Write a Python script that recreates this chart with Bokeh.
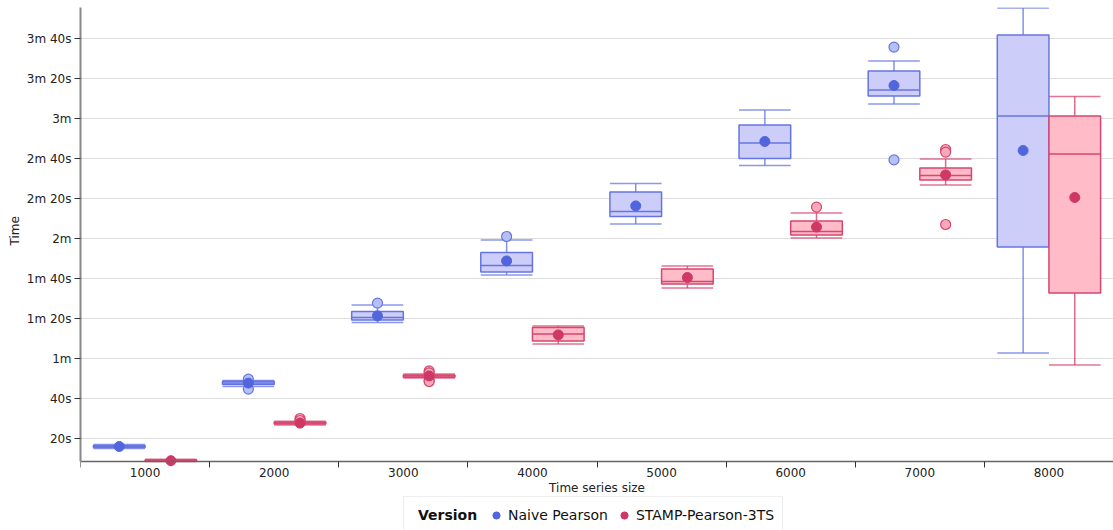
from bokeh.plotting import figure
from bokeh.models import ColumnDataSource, FixedTicker, Range1d, Legend, LegendItem, Title
from bokeh.embed import file_html
from bokeh.resources import INLINE

# ---------------- data ----------------
sizes = ["1000", "2000", "3000", "4000", "5000", "6000", "7000", "8000"]
versions = ["Naive Pearson", "STAMP-Pearson-3TS"]
legend_title = "Version"

y_tick_values = [20, 40, 60, 80, 100, 120, 140, 160, 180, 200, 220]
y_tick_labels = ["20s", "40s", "1m", "1m 20s", "1m 40s", "2m", "2m 20s",
                 "2m 40s", "3m", "3m 20s", "3m 40s"]

# Naive Pearson (seconds)
naive_lower = [15.0, 46.0, 78.0, 101.8, 127.2, 156.5, 187.2, 62.7]
naive_q1 = [15.5, 47.0, 79.3, 103.2, 131.0, 160.0, 191.3, 115.7]
naive_median = [16.0, 47.8, 80.5, 106.5, 133.5, 167.8, 194.2, 181.3]
naive_q3 = [16.5, 48.6, 83.5, 113.0, 143.2, 176.8, 203.8, 221.8]
naive_upper = [17.0, 49.0, 86.8, 119.3, 147.5, 184.2, 208.8, 235.2]
naive_mean = [16.0, 47.7, 81.3, 108.8, 136.3, 168.5, 196.5, 164.0]
naive_out_size = ["2000", "2000", "3000", "4000", "7000", "7000"]
naive_out_value = [49.7, 44.7, 87.7, 121.0, 215.7, 159.3]

# STAMP-Pearson-3TS (seconds)
stamp_lower = [8.5, 26.8, 50.2, 67.2, 95.2, 120.3, 146.8, 56.7]
stamp_q1 = [8.6, 27.2, 50.6, 68.8, 97.2, 121.8, 149.3, 92.8]
stamp_median = [9.0, 27.7, 51.2, 72.2, 98.5, 123.5, 151.5, 162.3]
stamp_q3 = [9.3, 28.2, 51.8, 75.5, 104.8, 128.7, 155.3, 181.2]
stamp_upper = [9.6, 28.6, 52.3, 76.3, 106.3, 132.8, 159.7, 191.0]
stamp_mean = [8.9, 27.7, 51.3, 71.8, 100.5, 125.7, 151.8, 140.5]
stamp_out_size = ["2000", "2000", "3000", "3000", "3000", "3000", "6000", "7000", "7000", "7000"]
stamp_out_value = [30.0, 29.0, 53.8, 52.8, 49.0, 48.5, 135.7, 164.5, 163.2, 127.0]

FONT = "DejaVu Sans"
styles = {
    "Naive Pearson": dict(fill="#c9caf9", line="#6475e2", dot="#5166dc",
                          ofill="#b7c0f6", offset=-0.2),
    "STAMP-Pearson-3TS": dict(fill="#ffb7c5", line="#d6466f", dot="#cf3765",
                              ofill="#f8aabb", offset=0.2),
}

Y_AXIS_MIN = 8.5
Y_MAX = 235.5

# frame runs to the bottom of the canvas; the x axis is pinned at Y_AXIS_MIN
p = figure(width=1113, height=530, output_backend="svg", toolbar_location=None,
           x_range=Range1d(0, len(sizes)), y_range=Range1d(-26.0, Y_MAX),
           min_border_left=80, min_border_right=0, min_border_top=7,
           min_border_bottom=0)
p.outline_line_color = None
p.background_fill_color = "white"
p.border_fill_color = "white"

# grid
p.xgrid.visible = False
p.ygrid.ticker = FixedTicker(ticks=y_tick_values)
p.ygrid.grid_line_color = "#dddddd"
p.ygrid.grid_line_width = 1

# x axis: labels at group centers, tick marks at group boundaries
centers = [i + 0.5 for i in range(len(sizes))]
bounds = [float(i) for i in range(len(sizes) + 1)]
xa = p.xaxis[0]
xa.fixed_location = Y_AXIS_MIN
xa.ticker = FixedTicker(ticks=centers, minor_ticks=bounds)
xa.major_label_overrides = {c: s for c, s in zip(centers, sizes)}
xa.axis_line_color = "#666666"
xa.axis_line_width = 1.5
xa.major_tick_line_color = None
xa.major_tick_in = 0
xa.major_tick_out = 0
xa.minor_tick_line_color = "#333333"
xa.minor_tick_in = 0
xa.minor_tick_out = 6
xa.major_label_standoff = 0
xa.axis_label = "Time series size"
xa.axis_label_standoff = 1

# y axis
ya = p.yaxis[0]
ya.bounds = (Y_AXIS_MIN, Y_MAX)
ya.ticker = FixedTicker(ticks=y_tick_values, minor_ticks=[])
ya.major_label_overrides = {v: s for v, s in zip(y_tick_values, y_tick_labels)}
ya.axis_line_color = "#888888"
ya.axis_line_width = 2
ya.major_tick_line_color = "#333333"
ya.major_tick_in = 0
ya.major_tick_out = 6
ya.minor_tick_line_color = None
ya.major_label_standoff = 3

for ax in (xa, ya):
    ax.major_label_text_font = FONT
    ax.major_label_text_font_size = "12px"
    ax.major_label_text_color = "#222222"
    ax.axis_label_text_font = FONT
    ax.axis_label_text_font_size = "12px"
    ax.axis_label_text_font_style = "normal"
    ax.axis_label_text_color = "#222222"

# y axis title, placed along the axis span rather than the full frame
p.add_layout(Title(text="Time", align="left", offset=285, standoff=4,
                   text_font=FONT, text_font_size="12px", text_font_style="normal",
                   text_color="#222222"), "left")

series = {
    "Naive Pearson": (naive_lower, naive_q1, naive_median, naive_q3, naive_upper,
                      naive_mean, naive_out_size, naive_out_value),
    "STAMP-Pearson-3TS": (stamp_lower, stamp_q1, stamp_median, stamp_q3, stamp_upper,
                          stamp_mean, stamp_out_size, stamp_out_value),
}

half = 0.2
mean_renderers = {}
first_src = None
for name in versions:
    lower, q1, med, q3, upper, mean, osz, oval = series[name]
    st = styles[name]
    xs = [sizes.index(s) + 0.5 + st["offset"] for s in sizes]
    src = ColumnDataSource(dict(x=xs, x0=[x - half for x in xs], x1=[x + half for x in xs],
                                lower=lower, q1=q1, med=med, q3=q3, upper=upper, mean=mean))
    if first_src is None:
        first_src = src
    # whiskers
    p.segment(x0="x", x1="x", y0="q3", y1="upper", source=src,
              line_color=st["line"], line_width=1.5, line_alpha=0.8)
    p.segment(x0="x", x1="x", y0="q1", y1="lower", source=src,
              line_color=st["line"], line_width=1.5, line_alpha=0.8)
    p.segment(x0="x0", x1="x1", y0="upper", y1="upper", source=src,
              line_color=st["line"], line_width=1.5, line_alpha=0.75)
    p.segment(x0="x0", x1="x1", y0="lower", y1="lower", source=src,
              line_color=st["line"], line_width=1.5, line_alpha=0.75)
    # boxes
    p.quad(left="x0", right="x1", bottom="q1", top="q3", source=src,
           fill_color=st["fill"], fill_alpha=0.95, line_color=st["line"], line_width=1.5)
    # median
    p.segment(x0="x0", x1="x1", y0="med", y1="med", source=src,
              line_color=st["line"], line_width=1.5)
    # outliers
    osrc = ColumnDataSource(dict(x=[sizes.index(s) + 0.5 + st["offset"] for s in osz], y=oval))
    p.scatter(x="x", y="y", source=osrc, size=10, marker="circle",
              fill_color=st["ofill"], line_color=st["line"], line_width=1.2)
    # mean
    mean_renderers[name] = p.scatter(x="x", y="mean", source=src, size=10, marker="circle",
                                     fill_color=st["dot"], line_color=st["dot"])

# legend: an invisible first entry reserves room for the bold title
spacer = p.scatter(x="x", y="mean", source=first_src, size=1, fill_alpha=0, line_alpha=0)
items = [LegendItem(label=" ", renderers=[spacer])]
for name in versions:
    items.append(LegendItem(label=name, renderers=[mean_renderers[name]]))
legend = Legend(items=items, orientation="horizontal", location=(323, -4),
                padding=8, spacing=7, glyph_width=18, glyph_height=18,
                label_standoff=3, label_height=20, label_width=47, margin=0,
                label_text_font=FONT, label_text_font_size="14px",
                label_text_color="#111111",
                border_line_color="#dddddd", border_line_width=1.5,
                background_fill_color="white", background_fill_alpha=1)
p.add_layout(legend)

# bold "Version" heading, drawn as a second borderless legend over the reserved slot
title_legend = Legend(items=[LegendItem(label=legend_title, renderers=[spacer])],
                      orientation="horizontal", location=(337, 5),
                      padding=0, spacing=0, glyph_width=1, glyph_height=18,
                      label_standoff=0, label_height=20, margin=0,
                      label_text_font=FONT, label_text_font_size="14px",
                      label_text_font_style="bold", label_text_color="#111111",
                      border_line_color=None, background_fill_alpha=0)
p.add_layout(title_legend)

open("out.html", "w").write(file_html(p, INLINE))
